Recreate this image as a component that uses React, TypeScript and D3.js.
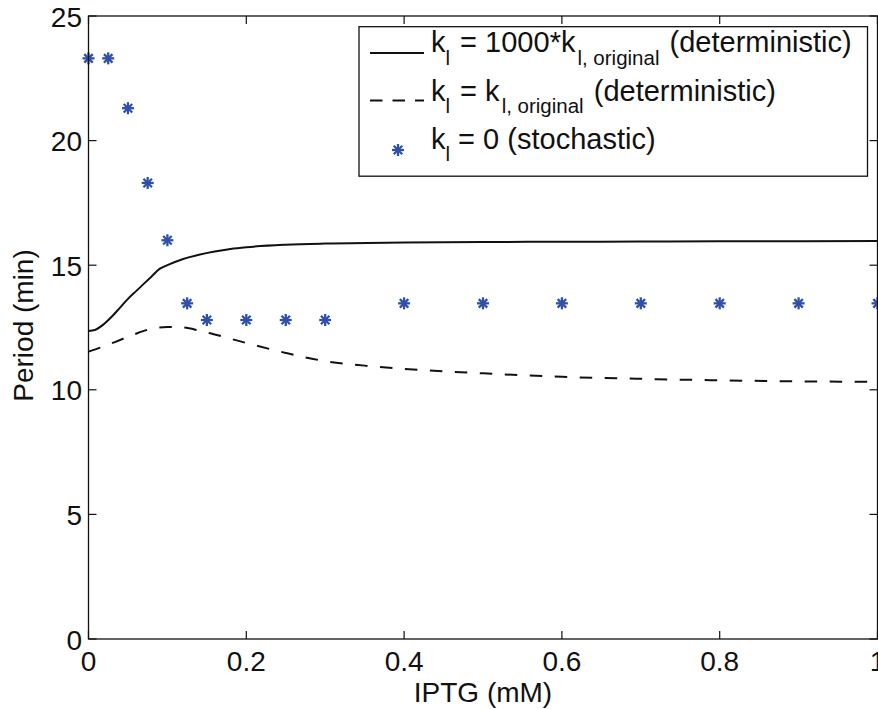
import React from "react";
import * as d3 from "d3";

const xTicks = [0, 0.2, 0.4, 0.6, 0.8, 1];
const xTickLabels = ["0", "0.2", "0.4", "0.6", "0.8", "1"];
const yTicks = [0, 5, 10, 15, 20, 25];
const yTickLabels = ["0", "5", "10", "15", "20", "25"];

const solidX = [0, 0.008, 0.02, 0.03, 0.04, 0.05, 0.06, 0.07, 0.08, 0.09, 0.1, 0.12, 0.14, 0.16, 0.18, 0.2, 0.25, 0.3, 0.4, 0.5, 0.6, 0.7, 0.8, 0.9, 1.0];
const solidY = [12.36, 12.4, 12.65, 12.95, 13.3, 13.65, 13.95, 14.25, 14.55, 14.85, 15.0, 15.25, 15.42, 15.55, 15.65, 15.72, 15.82, 15.87, 15.91, 15.93, 15.94, 15.95, 15.96, 15.96, 15.97];

const dashedX = [0, 0.02, 0.04, 0.06, 0.08, 0.1, 0.12, 0.14, 0.16, 0.18, 0.2, 0.25, 0.3, 0.35, 0.4, 0.5, 0.6, 0.7, 0.8, 0.9, 1.0];
const dashedY = [11.53, 11.75, 12.0, 12.25, 12.45, 12.52, 12.5, 12.38, 12.22, 12.05, 11.88, 11.48, 11.15, 10.97, 10.84, 10.66, 10.52, 10.44, 10.38, 10.34, 10.32];

const stochX = [0, 0.025, 0.05, 0.075, 0.1, 0.125, 0.15, 0.2, 0.25, 0.3, 0.4, 0.5, 0.6, 0.7, 0.8, 0.9, 1.0];
const stochY = [23.3, 23.3, 21.3, 18.3, 16.0, 13.47, 12.8, 12.8, 12.8, 12.8, 13.47, 13.47, 13.47, 13.47, 13.47, 13.47, 13.47];

const W = 878;
const H = 709;
const left = 88.5;
const right = 877.5;
const top = 16;
const bottom = 639;
const FONT = "'Liberation Sans', Arial, Helvetica, sans-serif";
const BLUE = "#3050a8";

function Asterisk({ cx, cy, r = 6 }: { cx: number; cy: number; r?: number }) {
  const d = r * 0.7071;
  return (
    <g stroke={BLUE} strokeWidth={2.3} strokeLinecap="butt">
      <line x1={cx - r} y1={cy} x2={cx + r} y2={cy} />
      <line x1={cx} y1={cy - r} x2={cx} y2={cy + r} />
      <line x1={cx - d} y1={cy - d} x2={cx + d} y2={cy + d} />
      <line x1={cx - d} y1={cy + d} x2={cx + d} y2={cy - d} />
    </g>
  );
}

export default function App() {
  const x = d3.scaleLinear().domain([0, 1]).range([left, right]);
  const y = d3.scaleLinear().domain([0, 25]).range([bottom, top]);
  const line = d3
    .line<[number, number]>()
    .x((d) => x(d[0]))
    .y((d) => y(d[1]))
    .curve(d3.curveMonotoneX);
  const solidPath = line(solidX.map((v, i) => [v, solidY[i]]) as [number, number][]) || "";
  const dashedPath = line(dashedX.map((v, i) => [v, dashedY[i]]) as [number, number][]) || "";
  const tl = 8;
  const fs = 28;
  const lfs = 29;
  const sub = 20.5;
  const subDy = 12.5;

  const legX = 359;
  const legY = 26.7;
  const legW = 508.5;
  const legH = 149.5;
  const textX = 431;
  const rows = [52, 100.5, 148.5];

  return (
    <svg
      width={W}
      height={H}
      style={{ position: "absolute", left: 0, top: 0, background: "#fff" }}
      fontFamily={FONT}
    >
      <rect x={0} y={0} width={W} height={H} fill="#fff" />
      {/* data */}
      <path d={solidPath} fill="none" stroke="#111" strokeWidth={2} />
      <path d={dashedPath} fill="none" stroke="#111" strokeWidth={2} strokeDasharray="12.5,12.5" />
      {stochX.map((v, i) => (
        <Asterisk key={i} cx={x(v)} cy={y(stochY[i])} />
      ))}
      {/* axes box */}
      <rect x={left} y={top} width={right - left} height={bottom - top} fill="none" stroke="#111" strokeWidth={1.3} />
      {xTicks.map((t, i) => (
        <g key={"xt" + i}>
          <line x1={x(t)} x2={x(t)} y1={bottom} y2={bottom - tl} stroke="#111" strokeWidth={1.2} />
          <line x1={x(t)} x2={x(t)} y1={top} y2={top + tl} stroke="#111" strokeWidth={1.2} />
          <text x={x(t)} y={671} fontSize={fs} textAnchor="middle" fill="#111">
            {xTickLabels[i]}
          </text>
        </g>
      ))}
      {yTicks.map((t, i) => (
        <g key={"yt" + i}>
          <line x1={left} x2={left + tl} y1={y(t)} y2={y(t)} stroke="#111" strokeWidth={1.2} />
          <line x1={right} x2={right - tl} y1={y(t)} y2={y(t)} stroke="#111" strokeWidth={1.2} />
          <text x={82} y={y(t) + 10.5} fontSize={fs} textAnchor="end" fill="#111">
            {yTickLabels[i]}
          </text>
        </g>
      ))}
      <text x={(left + right) / 2} y={702} fontSize={fs} textAnchor="middle" fill="#111">
        IPTG (mM)
      </text>
      <text
        transform={`translate(33, ${(top + bottom) / 2 - 2}) rotate(-90)`}
        fontSize={fs}
        textAnchor="middle"
        fill="#111"
      >
        Period (min)
      </text>
      {/* legend */}
      <rect x={legX} y={legY} width={legW} height={legH} fill="#fff" stroke="#111" strokeWidth={1.3} />
      <line x1={370} x2={424} y1={rows[0] + 1} y2={rows[0] + 1} stroke="#111" strokeWidth={2} />
      <line x1={370} x2={424} y1={rows[1]} y2={rows[1]} stroke="#111" strokeWidth={2} strokeDasharray="12.5,10" />
      <Asterisk cx={398} cy={rows[2] + 1.5} r={6} />
      <text x={textX} y={rows[0]} fontSize={lfs} fill="#111">
        <tspan>k</tspan>
        <tspan fontSize={sub} dy={subDy}>l</tspan>
        <tspan fontSize={lfs} dy={-subDy} dx={2}>{" = 1000*k"}</tspan>
        <tspan fontSize={sub} dy={subDy} dx={2}>l, original</tspan>
        <tspan fontSize={lfs} dy={-subDy} dx={2}>{" (deterministic)"}</tspan>
      </text>
      <text x={textX} y={rows[1]} fontSize={lfs} fill="#111">
        <tspan>k</tspan>
        <tspan fontSize={sub} dy={subDy}>l</tspan>
        <tspan fontSize={lfs} dy={-subDy} dx={2}>{" = k"}</tspan>
        <tspan fontSize={sub} dy={subDy} dx={2}>l, original</tspan>
        <tspan fontSize={lfs} dy={-subDy} dx={2}>{" (deterministic)"}</tspan>
      </text>
      <text x={textX} y={rows[2]} fontSize={lfs} fill="#111">
        <tspan>k</tspan>
        <tspan fontSize={sub} dy={subDy}>l</tspan>
        <tspan fontSize={lfs} dy={-subDy}>{" = 0 (stochastic)"}</tspan>
      </text>
    </svg>
  );
}
